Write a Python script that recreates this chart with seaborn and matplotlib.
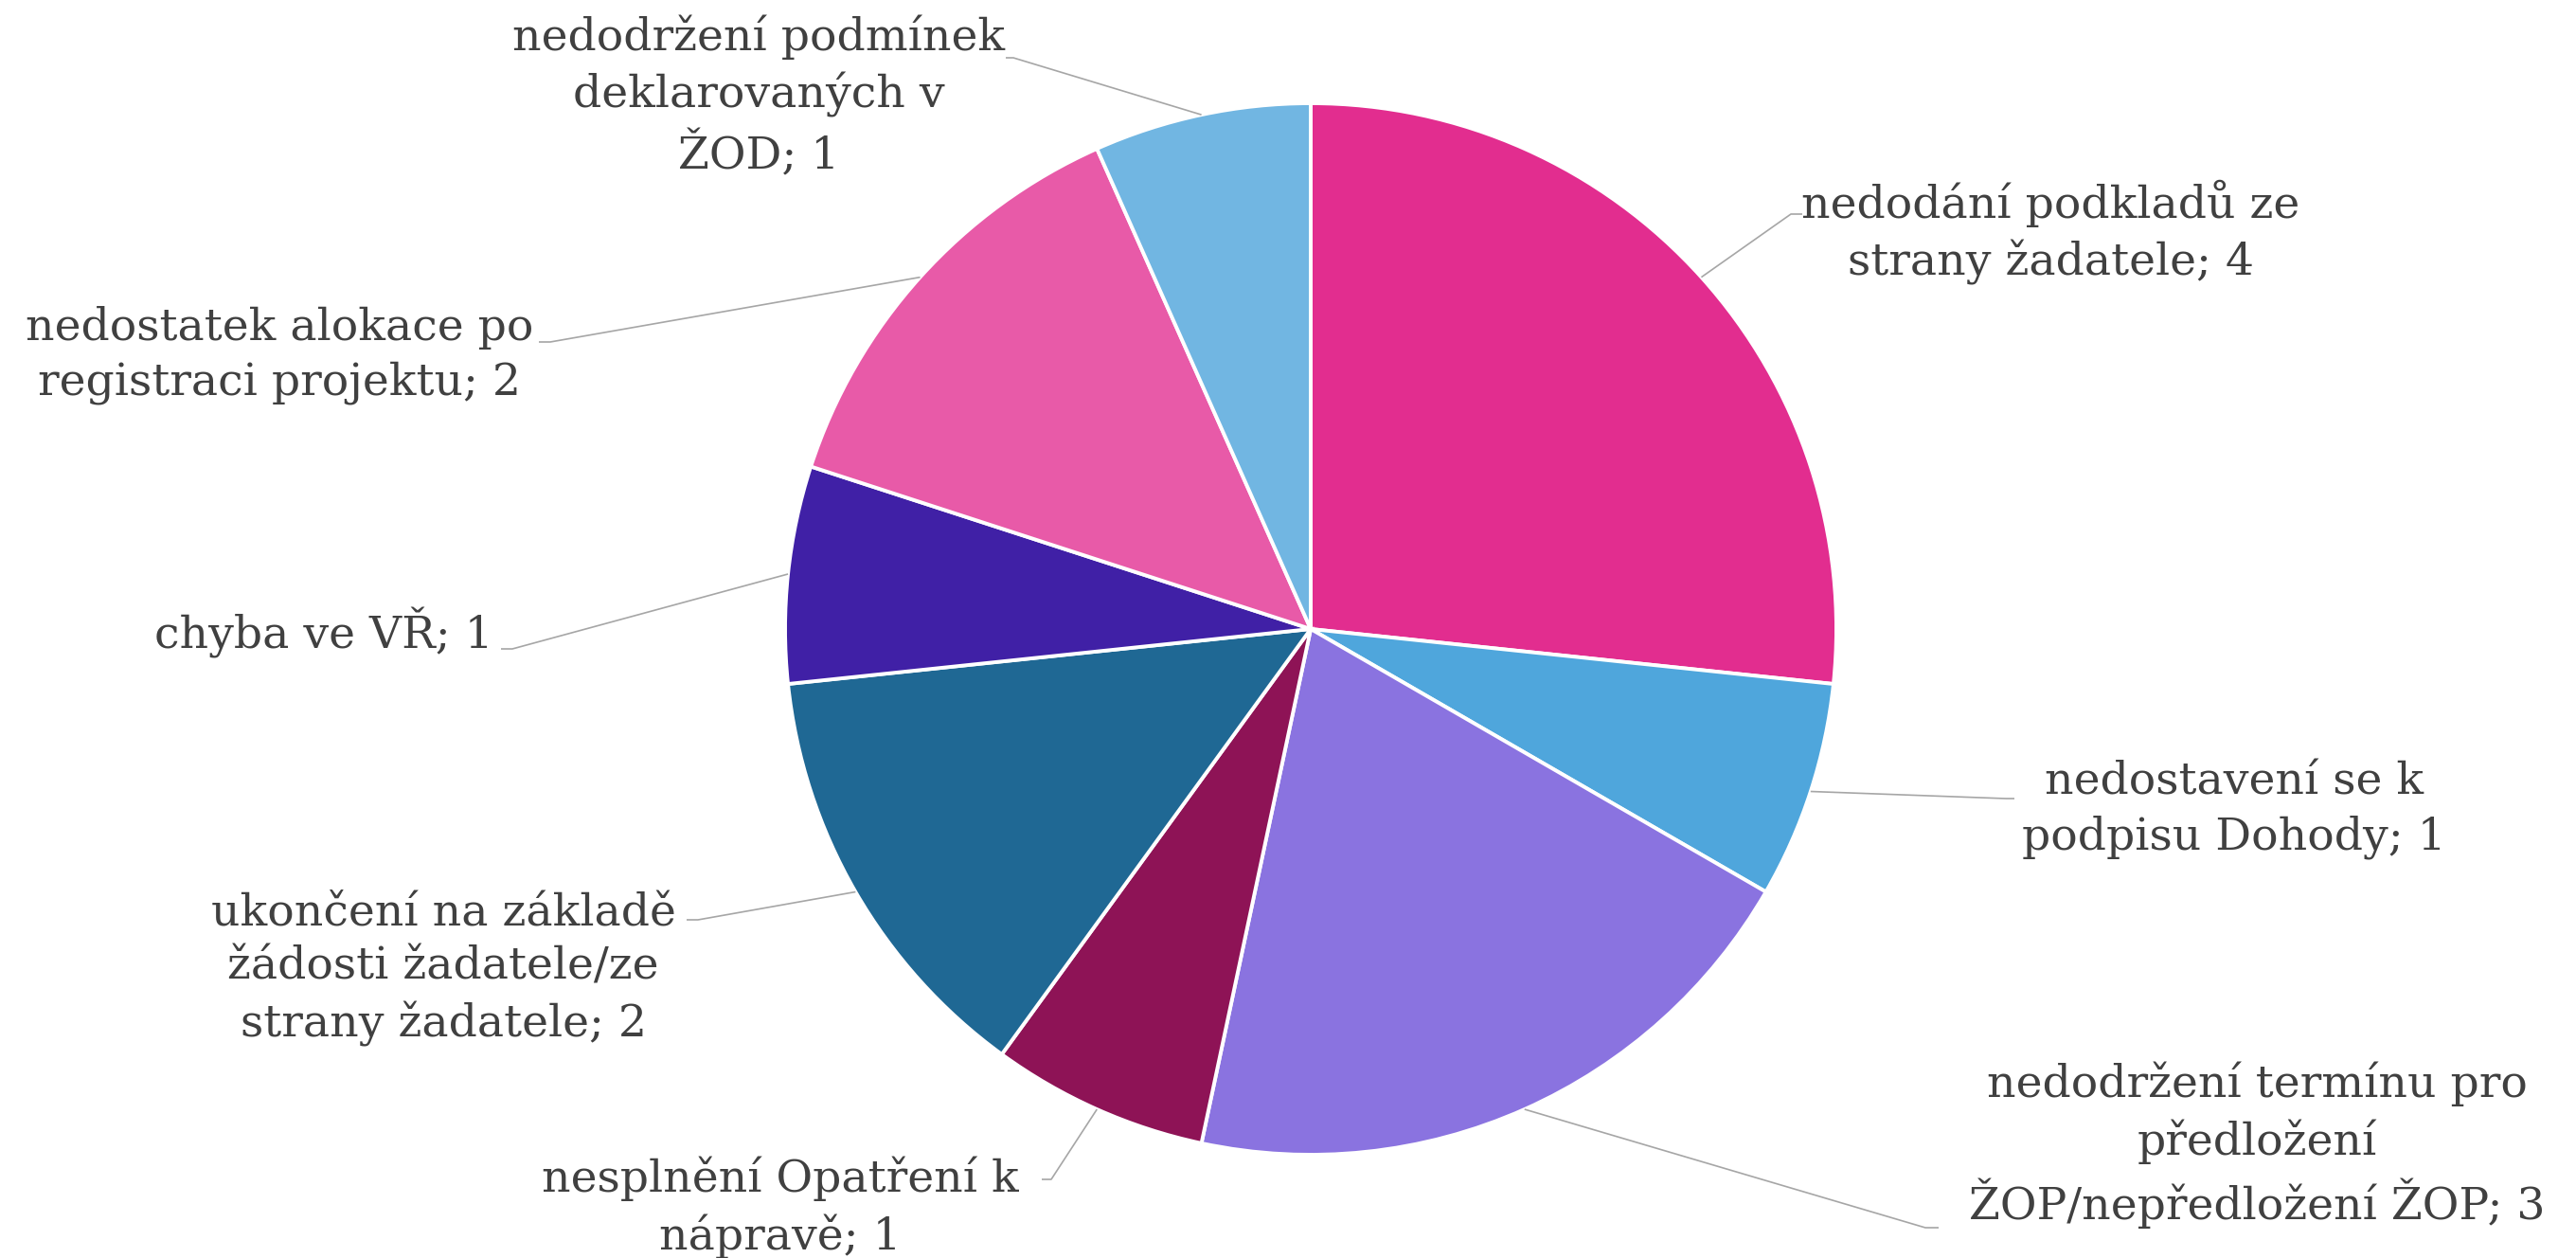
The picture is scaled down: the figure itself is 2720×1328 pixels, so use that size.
import matplotlib
matplotlib.use("Agg")
import matplotlib.pyplot as plt
import seaborn as sns
import numpy as np

# ---- data ----
categories = [
    "nedodání podkladů ze\nstrany žadatele",
    "nedostavení se k\npodpisu Dohody",
    "nedodržení termínu pro\npředložení\nŽOP/nepředložení ŽOP",
    "nesplnění Opatření k\nnápravě",
    "ukončení na základě\nžádosti žadatele/ze\nstrany žadatele",
    "chyba ve VŘ",
    "nedostatek alokace po\nregistraci projektu",
    "nedodržení podmínek\ndeklarovaných v\nŽOD",
]
values = [4, 1, 3, 1, 2, 1, 2, 1]
colors = ["#E22D8F", "#4FA6DC", "#8A73E0", "#8E1356",
          "#1F6894", "#4020A6", "#E85AA8", "#71B6E2"]

# ---- layout (pixel positions in the 2720x1328 canvas) ----
W, H = 2720, 1328
CX, CY, R = 1384, 664, 555
label_px = [(2165, 245), (2359, 855), (2383, 1209), (824, 1275),
            (468, 1023), (342, 668), (295, 375), (801, 102)]
elbow_px = [(1891, 226), (2118, 843), (2033, 1296), (1110, 1245),
            (737, 971), (541, 685), (581, 361), (1070, 61)]
end_px = [(1903, 226), (2127, 843), (2047, 1296), (1100, 1245),
          (725, 971), (529, 685), (569, 361), (1062, 61)]


def px2d(p):
    return ((p[0] - CX) / R, (CY - p[1]) / R)


sns.set_theme(style="white")
plt.rcParams["font.family"] = ["DejaVu Serif", "DejaVu Sans"]

fig = plt.figure(figsize=(W / 200, H / 200), dpi=200)
ax = fig.add_axes([0, 0, 1, 1])

wedges, _ = ax.pie(values, colors=colors, startangle=90, counterclock=False,
                   radius=1.0, center=(0, 0),
                   wedgeprops=dict(edgecolor="white", linewidth=1.4))
ax.set_xlim(-CX / R, (W - CX) / R)
ax.set_ylim(-(H - CY) / R, CY / R)
ax.set_aspect("auto")
ax.axis("off")

for i, w in enumerate(wedges):
    mid = np.deg2rad((w.theta1 + w.theta2) / 2)
    sx, sy = np.cos(mid), np.sin(mid)
    ex, ey = px2d(elbow_px[i])
    tx, ty = px2d(end_px[i])
    ax.plot([sx, ex, tx], [sy, ey, ty], color="#A6A6A6", lw=0.6,
            solid_capstyle="butt", zorder=1)
    lx, ly = px2d(label_px[i])
    ax.text(lx, ly, f"{categories[i]}; {values[i]}", ha="center", va="center",
            fontsize=17, color="#404040", linespacing=1.35)

fig.savefig("out.png", dpi=200)
